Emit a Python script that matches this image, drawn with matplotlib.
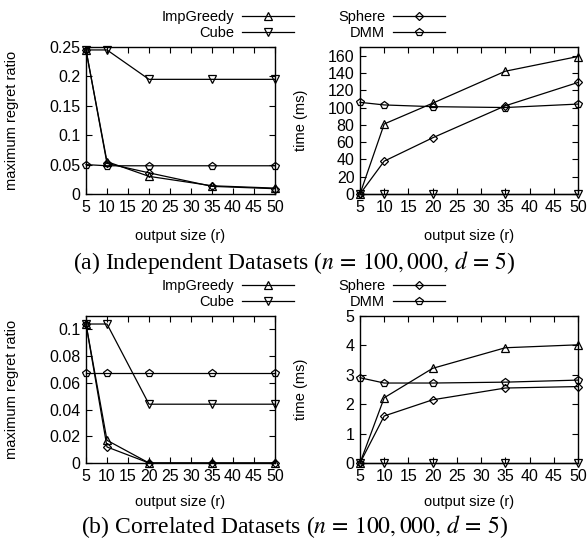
import matplotlib
matplotlib.use('Agg')
import matplotlib.pyplot as plt
from matplotlib.ticker import FuncFormatter, MultipleLocator

plt.rcParams['font.family'] = ['Liberation Sans', 'DejaVu Sans']
plt.rcParams['mathtext.fontset'] = 'stix'

sizes = [5, 10, 20, 35, 50]
names = ['ImpGreedy', 'Cube', 'Sphere', 'DMM']
markers = ['^', 'v', 'D', 'p']
msizes = [6, 6, 4.5, 6]

# independent datasets
ind_regret = {
    'ImpGreedy': [0.245, 0.055, 0.030, 0.014, 0.010],
    'Cube': [0.245, 0.245, 0.195, 0.195, 0.195],
    'Sphere': [0.245, 0.052, 0.036, 0.013, 0.009],
    'DMM': [0.050, 0.048, 0.048, 0.048, 0.048],
}
ind_time = {
    'ImpGreedy': [0, 81, 105, 142, 159],
    'Cube': [0, 0, 0, 0, 0],
    'Sphere': [0, 38, 65, 102, 129],
    'DMM': [106, 103, 101, 100, 104],
}
# correlated datasets
cor_regret = {
    'ImpGreedy': [0.104, 0.017, 0.0, 0.0, 0.0],
    'Cube': [0.104, 0.104, 0.044, 0.044, 0.044],
    'Sphere': [0.104, 0.012, 0.0, 0.0, 0.0],
    'DMM': [0.067, 0.067, 0.067, 0.067, 0.067],
}
cor_time = {
    'ImpGreedy': [0, 2.22, 3.22, 3.92, 4.02],
    'Cube': [0, 0, 0, 0, 0],
    'Sphere': [0, 1.60, 2.15, 2.55, 2.60],
    'DMM': [2.90, 2.72, 2.72, 2.75, 2.82],
}

W, H = 587, 540
fig = plt.figure(figsize=(W / 100, H / 100), dpi=100)


def box(l, t, r, b):
    return [l / W, 1 - b / H, (r - l) / W, (b - t) / H]


# rect, data, ymax, ystep, ylabel, ylabel x (px), xlabel top (px)
panels = [
    (box(86, 47, 275, 194), ind_regret, 0.25, 0.05, 'maximum regret ratio', 12, 229),
    (box(360, 47, 578, 194), ind_time, 170, 20, 'time (ms)', 301, 229),
    (box(86, 316, 275, 463), cor_regret, 0.11, 0.02, 'maximum regret ratio', 12, 495),
    (box(360, 316, 578, 463), cor_time, 5, 1, 'time (ms)', 301, 495),
]

axes = []
for rect, data, ytop, ystep, ylabel, ylx, xly in panels:
    ax = fig.add_axes(rect)
    for n, m, ms in zip(names, markers, msizes):
        ax.plot(sizes, data[n], color='black', lw=0.9, marker=m, ms=ms,
                mfc='none', mec='black', mew=0.9, label=n, clip_on=False)
    ax.set_xlim(5, 50)
    ax.set_ylim(0, ytop)
    ax.xaxis.set_major_locator(MultipleLocator(5))
    ax.yaxis.set_major_locator(MultipleLocator(ystep))
    ax.yaxis.set_major_formatter(FuncFormatter(lambda v, p: '%g' % round(v, 6)))
    ax.tick_params(direction='in', top=True, right=True, length=4, width=0.8,
                   labelsize=11.5, pad=4)
    ax.set_xlabel('output size (r)', fontsize=10.5)
    ax.set_ylabel(ylabel, fontsize=10.5, va='center')
    l, b, w, h = rect
    ax.yaxis.set_label_coords((ylx / W - l) / w, 0.5)
    ax.xaxis.set_label_coords(0.5, ((1 - xly / H) - b) / h)
    for s in ax.spines.values():
        s.set_linewidth(1.0)
    axes.append(ax)

for top, cap in [(0, r'(a) Independent Datasets ($n\,=\,100,000,\,d\,=\,5$)'),
                 (265, r'(b) Correlated Datasets ($n\,=\,100,000,\,d\,=\,5$)')]:
    fig.text(294 / W, 1 - (262 + top) / H, cap, ha='center', va='center',
             fontsize=17, family='Liberation Serif')

for top in [0, 269]:
    h, l = axes[0].get_legend_handles_labels()
    fig.legend(h, l, ncol=2, markerfirst=False, frameon=False,
               loc='upper left', bbox_to_anchor=(162 / W, 1 - (10 + top) / H),
               fontsize=10.5, handlelength=3.6, handletextpad=0.5,
               columnspacing=3.0, labelspacing=0.15, borderpad=0, borderaxespad=0)

fig.savefig('out.png', dpi=100)
